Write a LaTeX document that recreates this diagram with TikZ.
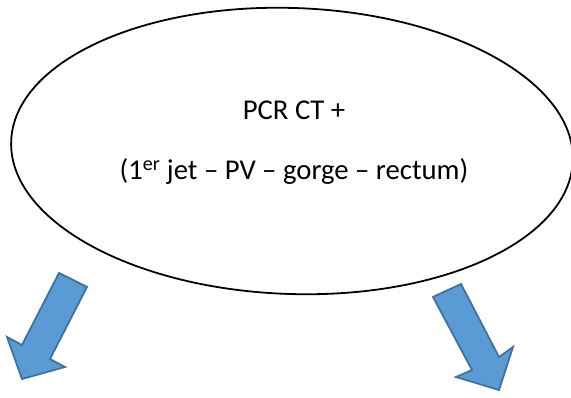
\documentclass[tikz,border=0pt]{standalone}
\usepackage{fontspec}
\setmainfont{Carlito}
\begin{document}
\begin{tikzpicture}[x=1pt,y=-1pt,
  bigarrow/.style={fill={rgb,255:red,91;green,155;blue,213},draw={rgb,255:red,65;green,113;blue,156},line width=1.8pt,line join=miter},
  label/.style={font=\fontsize{28.7}{34}\selectfont,anchor=base,inner sep=0pt}]
\useasboundingbox (0,0) rectangle (571,398);
\draw[line width=1.8pt,rotate around={-2:(292,151)}] (292,151) ellipse [x radius=281, y radius=143];
\node[label] (l1) at (294,120) {PCR CT +};
\node[label] (l2) at (294,180) {(1\textsuperscript{er} jet – PV – gorge – rectum)};
\draw[bigarrow] (59,273) -- (87,287) -- (50,359) -- (65,367) -- (22,379) -- (7,337) -- (22,345) -- cycle;
\draw[bigarrow] (433,297) -- (461,284) -- (499,357) -- (513,347) -- (499,390) -- (456,377) -- (472,370) -- cycle;
\end{tikzpicture}
\end{document}
